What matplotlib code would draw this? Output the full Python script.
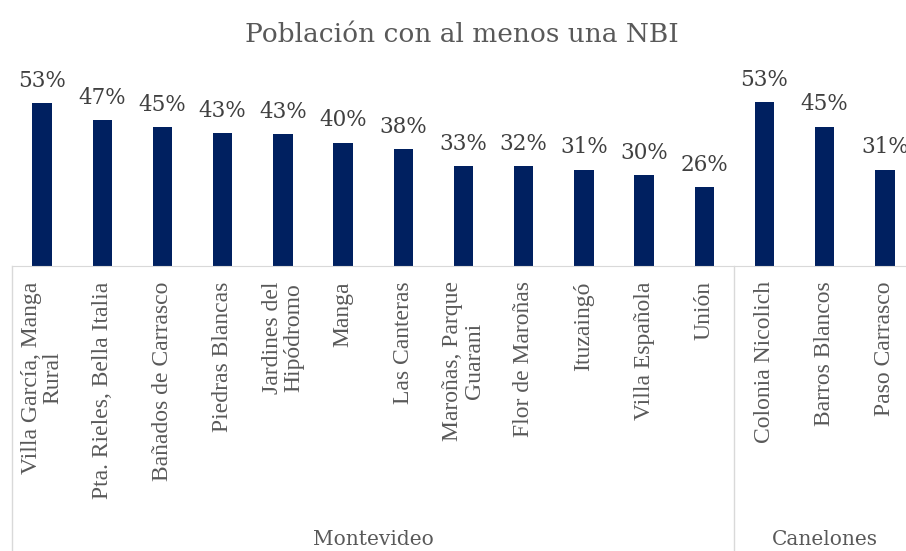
import matplotlib.pyplot as plt
import matplotlib.transforms as mtransforms

# data
barrios = ["Villa García, Manga\nRural", "Pta. Rieles, Bella Italia", "Bañados de Carrasco",
           "Piedras Blancas", "Jardines del\nHipódromo", "Manga", "Las Canteras",
           "Maroñas, Parque\nGuarani", "Flor de Maroñas", "Ituzaingó", "Villa Española",
           "Unión", "Colonia Nicolich", "Barros Blancos", "Paso Carrasco"]
nbi = [53.0, 47.4, 45.2, 43.4, 43.0, 40.2, 38.0, 32.6, 32.4, 31.4, 29.7, 25.8, 53.4, 45.4, 31.4]
departamentos = ["Montevideo", "Canelones"]
n_por_depto = [12, 3]

fig = plt.figure(figsize=(9.06, 5.51), dpi=100)
ax = fig.add_axes([12 / 906, (551 - 266) / 551, 903 / 906, 215 / 551])

x = list(range(len(barrios)))
ax.bar(x, nbi, width=0.32, color="#002060")
ax.set_xlim(-0.5, len(barrios) - 0.5)
ax.set_ylim(0, 70)

for xi, v in zip(x, nbi):
    ax.annotate("{:.0f}%".format(v), (xi, v), xytext=(0, 8), textcoords="offset points",
                ha="center", va="bottom", fontsize=15.5, color="#404040", family="DejaVu Serif")

ax.set_xticks(x)
ax.set_xticklabels(barrios, rotation=90, va="top", ha="center", multialignment="center",
                   fontsize=17, color="#595959", family="Liberation Serif", linespacing=1.05)
ax.tick_params(axis="x", length=0, pad=11)
ax.set_yticks([])
for s in ["top", "left", "right"]:
    ax.spines[s].set_visible(False)
ax.spines["bottom"].set_color("#d9d9d9")

# group separators and labels
trans = mtransforms.blended_transform_factory(ax.transData, fig.transFigure)
start = -0.5
for nombre, n in zip(departamentos, n_por_depto):
    ax.plot([start, start], [0, -120], color="#d9d9d9", lw=1, clip_on=False)
    ax.text(start + n / 2, 0.02, nombre, transform=trans, ha="center", va="center",
            fontsize=14.5, color="#595959", family="DejaVu Serif")
    start += n
ax.plot([start, start], [0, -120], color="#d9d9d9", lw=1, clip_on=False)

fig.text(462 / 906, 1 - 35 / 551, "Población con al menos una NBI", ha="center", va="center",
         fontsize=19, color="#595959", family="DejaVu Serif")

fig.savefig("out.png", dpi=100)
